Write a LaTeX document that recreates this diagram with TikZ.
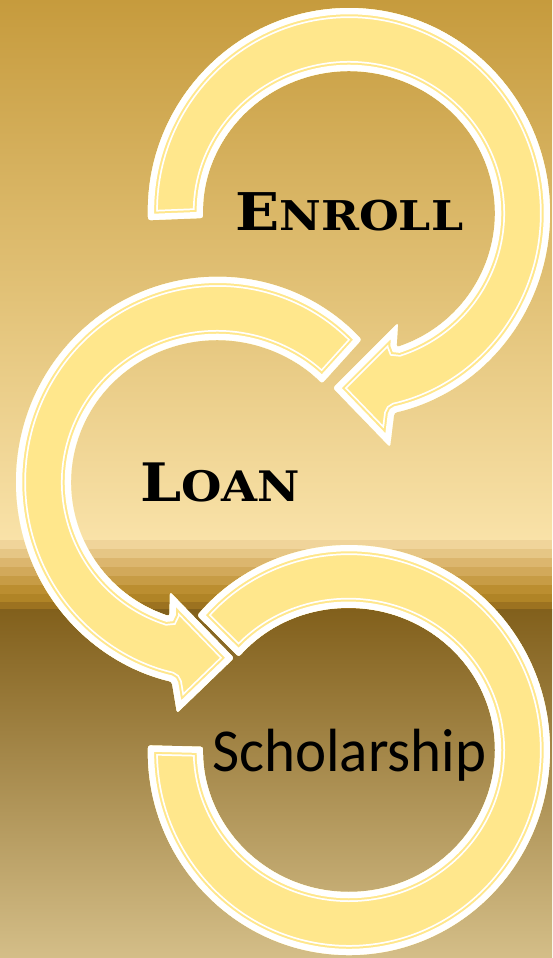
\documentclass[tikz,border=0pt]{standalone}
\usepackage{fontspec}
\usepackage{graphicx}
\newfontfamily\cpfont{DejaVu Serif}
\newfontfamily\scfont{Carlito}
\definecolor{bandfill}{HTML}{FFE78C}
\definecolor{bgA}{HTML}{C69B3D}
\definecolor{bgM}{HTML}{DDBA6C}
\definecolor{bgB}{HTML}{F9E2A8}
\definecolor{bgC}{HTML}{82601C}
\definecolor{bgD}{HTML}{99793A}
\definecolor{bgE}{HTML}{D4BE88}
\newcommand\ringband[1]{%
  \begin{scope}[rounded corners=2.5pt]
    \clip #1;
    \fill[bandfill] #1;
    \draw[white,line width=20pt] #1;
    \draw[bandfill,line width=16.5pt] #1;
    \draw[white,line width=12.5pt] #1;
  \end{scope}}
\tikzset{
  captxt/.style={inner sep=0pt, anchor=base west, text=black},
}
\begin{document}
\begin{tikzpicture}[x=1pt,y=1pt]
\useasboundingbox (0,0) rectangle (552,958);
% background
\shade[top color=bgA, middle color=bgM, bottom color=bgB] (0,418) rectangle (552,958);
\foreach \ya/\c in {540/F0D49A,549/E6C685,558/DCB66E,567/D2A95A,576/C79C45,585/BB8E30,594/B08426,602/9C7220}{
  \definecolor{tmpc}{HTML}{\c}
  \fill[tmpc] (0,{958-\ya}) rectangle (552,{958-\ya-9.2});
}
\shade[top color=bgC, middle color=bgD, bottom color=bgE] (0,0) rectangle (552,348);
% arrow 1 (Enroll)
\ringband{(148.1,737.8) arc[start angle=182,end angle=-77,x radius=201pt,y radius=205pt] -- (390,511) -- (333,570) -- (398,635) -- (396.5,610.7) arc[start angle=-71,end angle=182,x radius=146pt,y radius=142pt] -- cycle}
% arrow 2 (Loan)
\ringband{(361.6,618.4) arc[start angle=44,end angle=257,x radius=201pt,y radius=205pt] -- (177,245) -- (234,300) -- (170,366) -- (169.5,341.7) arc[start angle=251,end angle=44,x radius=146pt,y radius=142pt] -- cycle}
% arrow 3 (Scholarship)
\ringband{(148.0,212.6) arc[start angle=178.7,end angle=499,x radius=201pt,y radius=205pt] -- ({349+146*cos(499)},{208+142*sin(499)}) arc[start angle=499,end angle=178.7,x radius=146pt,y radius=142pt] -- cycle}
% labels
\node[captxt] (enroll) at (235,727) {\resizebox{228pt}{\height}{\cpfont\bfseries{\fontsize{52}{52}\selectfont E}{\fontsize{41}{41}\selectfont NROLL}}};
\node[captxt] (loan) at (140,456) {\resizebox{160pt}{\height}{\cpfont\bfseries{\fontsize{53}{53}\selectfont L}{\fontsize{42}{42}\selectfont OAN}}};
\node[captxt] (schol) at (212,186) {\resizebox{274pt}{\height}{\scfont\fontsize{61}{61}\selectfont Scholarship}};
\end{tikzpicture}
\end{document}
